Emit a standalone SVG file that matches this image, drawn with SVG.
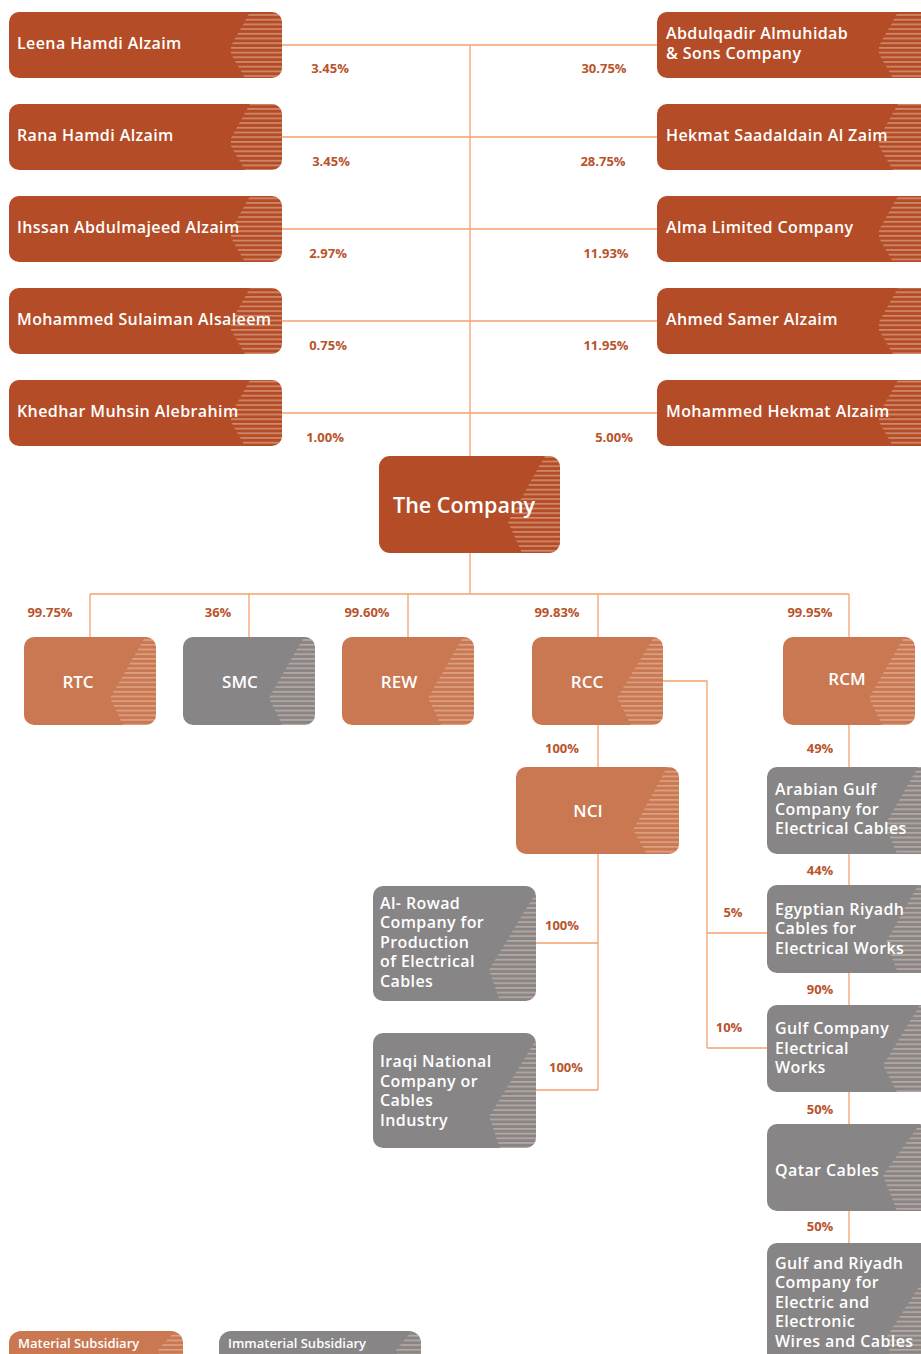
<svg xmlns="http://www.w3.org/2000/svg" xmlns:xlink="http://www.w3.org/1999/xlink" width="921" height="1354" viewBox="0 0 921 1354">
<style>
.dark{fill:#b44d27}
.mat{fill:#c97852}
.gray{fill:#878586}
.str{fill:url(#stripes)}
.nt{font-family:"Open Sans",Lato,sans-serif;font-weight:600;fill:#ffffff;font-size:16px;letter-spacing:0.4px}
.ct{font-family:"Open Sans",Lato,sans-serif;font-weight:600;fill:#ffffff;font-size:17px;text-anchor:middle}
.pc{font-family:"Open Sans",Lato,sans-serif;font-weight:700;fill:#b9532c;font-size:13px;text-anchor:middle}
.lg{font-family:"Open Sans",Lato,sans-serif;font-weight:600;fill:#ffffff;font-size:13px}
.ln{stroke:#f4a06e;stroke-width:1.3;fill:none}
</style>
<defs>
<pattern id="stripes" patternUnits="userSpaceOnUse" width="20" height="4.7">
<rect x="0" y="0" width="20" height="1.7" fill="#f3d2c0" fill-opacity="0.45"/>
</pattern>
</defs>

<g id="connectors" class="ln">
<line x1="282" y1="45" x2="657" y2="45"/>
<line x1="282" y1="137" x2="657" y2="137"/>
<line x1="282" y1="229" x2="657" y2="229"/>
<line x1="282" y1="321" x2="657" y2="321"/>
<line x1="282" y1="413" x2="657" y2="413"/>
<line x1="470" y1="45" x2="470" y2="456"/>
<line x1="470" y1="553" x2="470" y2="594"/>
<line x1="90" y1="594" x2="849" y2="594"/>
<line x1="90" y1="594" x2="90" y2="637"/>
<line x1="249" y1="594" x2="249" y2="637"/>
<line x1="408" y1="594" x2="408" y2="637"/>
<line x1="598" y1="594" x2="598" y2="637"/>
<line x1="849" y1="594" x2="849" y2="637"/>
<line x1="598" y1="725" x2="598" y2="767"/>
<line x1="598" y1="854" x2="598" y2="1090"/>
<line x1="536" y1="943" x2="598" y2="943"/>
<line x1="536" y1="1090" x2="598" y2="1090"/>
<polyline points="663,681 707,681 707,1048"/>
<line x1="707" y1="933" x2="767" y2="933"/>
<line x1="707" y1="1048" x2="767" y2="1048"/>
<line x1="849" y1="725" x2="849" y2="1243"/>
</g>

<g id="labels">
<text class="pc" x="330" y="73">3.45%</text>
<text class="pc" x="331" y="166">3.45%</text>
<text class="pc" x="328" y="258">2.97%</text>
<text class="pc" x="328" y="350">0.75%</text>
<text class="pc" x="325" y="442">1.00%</text>
<text class="pc" x="604" y="73">30.75%</text>
<text class="pc" x="603" y="166">28.75%</text>
<text class="pc" x="606" y="258">11.93%</text>
<text class="pc" x="606" y="350">11.95%</text>
<text class="pc" x="614" y="442">5.00%</text>
<text class="pc" x="50" y="617">99.75%</text>
<text class="pc" x="218" y="617">36%</text>
<text class="pc" x="367" y="617">99.60%</text>
<text class="pc" x="557" y="617">99.83%</text>
<text class="pc" x="810" y="617">99.95%</text>
<text class="pc" x="562" y="753">100%</text>
<text class="pc" x="820" y="753">49%</text>
<text class="pc" x="820" y="875">44%</text>
<text class="pc" x="820" y="994">90%</text>
<text class="pc" x="820" y="1114">50%</text>
<text class="pc" x="820" y="1231">50%</text>
<text class="pc" x="733" y="917">5%</text>
<text class="pc" x="729" y="1032">10%</text>
<text class="pc" x="562" y="930">100%</text>
<text class="pc" x="566" y="1072">100%</text>
</g>

<g id="n-leena">
<rect id="r1" class="dark" x="9" y="12" width="273" height="66" rx="10"/>
<clipPath id="c1"><use xlink:href="#r1"/></clipPath>
<polygon class="str" clip-path="url(#c1)" points="250,12 290,12 290,78 245,78 231,54 231,46"/>
<text class="nt" x="17" y="49">Leena Hamdi Alzaim</text>
</g>
<g id="n-rana">
<rect id="r2" class="dark" x="9" y="104" width="273" height="66" rx="10"/>
<clipPath id="c2"><use xlink:href="#r2"/></clipPath>
<polygon class="str" clip-path="url(#c2)" points="250,104 290,104 290,170 245,170 231,146 231,138"/>
<text class="nt" x="17" y="141">Rana Hamdi Alzaim</text>
</g>
<g id="n-ihssan">
<rect id="r3" class="dark" x="9" y="196" width="273" height="66" rx="10"/>
<clipPath id="c3"><use xlink:href="#r3"/></clipPath>
<polygon class="str" clip-path="url(#c3)" points="250,196 290,196 290,262 245,262 231,238 231,230"/>
<text class="nt" x="17" y="233">Ihssan Abdulmajeed Alzaim</text>
</g>
<g id="n-mohammed-s">
<rect id="r4" class="dark" x="9" y="288" width="273" height="66" rx="10"/>
<clipPath id="c4"><use xlink:href="#r4"/></clipPath>
<polygon class="str" clip-path="url(#c4)" points="250,288 290,288 290,354 245,354 231,330 231,322"/>
<text class="nt" x="17" y="325">Mohammed Sulaiman Alsaleem</text>
</g>
<g id="n-khedhar">
<rect id="r5" class="dark" x="9" y="380" width="273" height="66" rx="10"/>
<clipPath id="c5"><use xlink:href="#r5"/></clipPath>
<polygon class="str" clip-path="url(#c5)" points="250,380 290,380 290,446 245,446 231,422 231,414"/>
<text class="nt" x="17" y="417">Khedhar Muhsin Alebrahim</text>
</g>

<g id="n-abdulqadir">
<rect id="r6" class="dark" x="657" y="12" width="273" height="66" rx="10"/>
<clipPath id="c6"><use xlink:href="#r6"/></clipPath>
<polygon class="str" clip-path="url(#c6)" points="898,12 940,12 940,78 893,78 879,54 879,46"/>
<text class="nt" x="666" y="38.5">Abdulqadir Almuhidab</text>
<text class="nt" x="666" y="58.5">&amp; Sons Company</text>
</g>
<g id="n-hekmat">
<rect id="r7" class="dark" x="657" y="104" width="273" height="66" rx="10"/>
<clipPath id="c7"><use xlink:href="#r7"/></clipPath>
<polygon class="str" clip-path="url(#c7)" points="898,104 940,104 940,170 893,170 879,146 879,138"/>
<text class="nt" x="666" y="141">Hekmat Saadaldain Al Zaim</text>
</g>
<g id="n-alma">
<rect id="r8" class="dark" x="657" y="196" width="273" height="66" rx="10"/>
<clipPath id="c8"><use xlink:href="#r8"/></clipPath>
<polygon class="str" clip-path="url(#c8)" points="898,196 940,196 940,262 893,262 879,238 879,230"/>
<text class="nt" x="666" y="233">Alma Limited Company</text>
</g>
<g id="n-ahmed">
<rect id="r9" class="dark" x="657" y="288" width="273" height="66" rx="10"/>
<clipPath id="c9"><use xlink:href="#r9"/></clipPath>
<polygon class="str" clip-path="url(#c9)" points="898,288 940,288 940,354 893,354 879,330 879,322"/>
<text class="nt" x="666" y="325">Ahmed Samer Alzaim</text>
</g>
<g id="n-mohammed-h">
<rect id="r10" class="dark" x="657" y="380" width="273" height="66" rx="10"/>
<clipPath id="c10"><use xlink:href="#r10"/></clipPath>
<polygon class="str" clip-path="url(#c10)" points="898,380 940,380 940,446 893,446 879,422 879,414"/>
<text class="nt" x="666" y="417">Mohammed Hekmat Alzaim</text>
</g>

<g id="n-company">
<rect id="r11" class="dark" x="379" y="456" width="181" height="97" rx="11"/>
<clipPath id="c11"><use xlink:href="#r11"/></clipPath>
<polygon class="str" clip-path="url(#c11)" points="545,456 570,456 570,553 522,553 508,522"/>
<text class="nt" x="393" y="513" style="font-size:21.5px;letter-spacing:0">The Company</text>
</g>

<g id="n-rtc">
<rect id="r12" class="mat" x="24" y="637" width="132" height="88" rx="10"/>
<clipPath id="c12"><use xlink:href="#r12"/></clipPath>
<polygon class="str" clip-path="url(#c12)" points="145,637 165,637 165,725 123,725 110,698"/>
<text class="ct" x="78" y="688">RTC</text>
</g>
<g id="n-smc">
<rect id="r13" class="gray" x="183" y="637" width="132" height="88" rx="10"/>
<clipPath id="c13"><use xlink:href="#r13"/></clipPath>
<polygon class="str" clip-path="url(#c13)" points="304,637 324,637 324,725 282,725 269,698"/>
<text class="ct" x="240" y="688">SMC</text>
</g>
<g id="n-rew">
<rect id="r14" class="mat" x="342" y="637" width="132" height="88" rx="10"/>
<clipPath id="c14"><use xlink:href="#r14"/></clipPath>
<polygon class="str" clip-path="url(#c14)" points="463,637 483,637 483,725 441,725 428,698"/>
<text class="ct" x="399" y="688">REW</text>
</g>
<g id="n-rcc">
<rect id="r15" class="mat" x="532" y="637" width="131" height="88" rx="10"/>
<clipPath id="c15"><use xlink:href="#r15"/></clipPath>
<polygon class="str" clip-path="url(#c15)" points="654,637 672,637 672,725 631,725 617,698"/>
<text class="ct" x="587" y="688">RCC</text>
</g>
<g id="n-rcm">
<rect id="r16" class="mat" x="783" y="637" width="132" height="88" rx="10"/>
<clipPath id="c16"><use xlink:href="#r16"/></clipPath>
<polygon class="str" clip-path="url(#c16)" points="904,637 924,637 924,725 882,725 869,698"/>
<text class="ct" x="847" y="685">RCM</text>
</g>
<g id="n-nci">
<rect id="r17" class="mat" x="516" y="767" width="163" height="87" rx="10"/>
<clipPath id="c17"><use xlink:href="#r17"/></clipPath>
<polygon class="str" clip-path="url(#c17)" points="667,767 690,767 690,854 647,854 633,830"/>
<text class="ct" x="588" y="817">NCI</text>
</g>

<g id="n-alrowad">
<rect id="r18" class="gray" x="373" y="886" width="163" height="115" rx="10"/>
<clipPath id="c18"><use xlink:href="#r18"/></clipPath>
<polygon class="str" clip-path="url(#c18)" points="540,886 550,886 550,1001 500,1001 489,970"/>
<text class="nt" x="380" y="908.5">Al- Rowad</text>
<text class="nt" x="380" y="928">Company for</text>
<text class="nt" x="380" y="947.5">Production</text>
<text class="nt" x="380" y="967">of Electrical</text>
<text class="nt" x="380" y="986.5">Cables</text>
</g>
<g id="n-iraqi">
<rect id="r19" class="gray" x="373" y="1033" width="163" height="115" rx="10"/>
<clipPath id="c19"><use xlink:href="#r19"/></clipPath>
<polygon class="str" clip-path="url(#c19)" points="540,1033 550,1033 550,1148 500,1148 489,1117"/>
<text class="nt" x="380" y="1067">Iraqi National</text>
<text class="nt" x="380" y="1086.5">Company or</text>
<text class="nt" x="380" y="1106">Cables</text>
<text class="nt" x="380" y="1125.5">Industry</text>
</g>

<g id="n-arabian">
<rect id="r20" class="gray" x="767" y="767" width="165" height="87" rx="10"/>
<clipPath id="c20"><use xlink:href="#r20"/></clipPath>
<polygon class="str" clip-path="url(#c20)" points="918,767 940,767 940,854 897,854 885,825"/>
<text class="nt" x="775" y="795">Arabian Gulf</text>
<text class="nt" x="775" y="814.5">Company for</text>
<text class="nt" x="775" y="834">Electrical Cables</text>
</g>
<g id="n-egyptian">
<rect id="r21" class="gray" x="767" y="885" width="165" height="88" rx="10"/>
<clipPath id="c21"><use xlink:href="#r21"/></clipPath>
<polygon class="str" clip-path="url(#c21)" points="918,885 940,885 940,973 898,973 886,942"/>
<text class="nt" x="775" y="914.5">Egyptian Riyadh</text>
<text class="nt" x="775" y="934">Cables for</text>
<text class="nt" x="775" y="953.5">Electrical Works</text>
</g>
<g id="n-gulfco">
<rect id="r22" class="gray" x="767" y="1005" width="165" height="87" rx="10"/>
<clipPath id="c22"><use xlink:href="#r22"/></clipPath>
<polygon class="str" clip-path="url(#c22)" points="920,1005 940,1005 940,1092 897,1092 883,1065"/>
<text class="nt" x="775" y="1034">Gulf Company</text>
<text class="nt" x="775" y="1053.5">Electrical</text>
<text class="nt" x="775" y="1073">Works</text>
</g>
<g id="n-qatar">
<rect id="r23" class="gray" x="767" y="1124" width="165" height="87" rx="10"/>
<clipPath id="c23"><use xlink:href="#r23"/></clipPath>
<polygon class="str" clip-path="url(#c23)" points="920,1124 940,1124 940,1211 897,1211 883,1175"/>
<text class="nt" x="775" y="1176">Qatar Cables</text>
</g>
<g id="n-gulfriyadh">
<rect id="r24" class="gray" x="767" y="1243" width="165" height="130" rx="10"/>
<clipPath id="c24"><use xlink:href="#r24"/></clipPath>
<polygon class="str" clip-path="url(#c24)" points="935,1262 940,1262 940,1373 895,1373 886,1338"/>
<text class="nt" x="775" y="1268.5">Gulf and Riyadh</text>
<text class="nt" x="775" y="1288">Company for</text>
<text class="nt" x="775" y="1307.5">Electric and</text>
<text class="nt" x="775" y="1327">Electronic</text>
<text class="nt" x="775" y="1346.5">Wires and Cables</text>
</g>

<g id="legend">
<g id="legend-material">
<rect id="r25" class="mat" x="9" y="1331" width="174" height="46" rx="12"/>
<clipPath id="c25"><use xlink:href="#r25"/></clipPath>
<polygon class="str" clip-path="url(#c25)" points="175,1331 190,1331 190,1360 160,1360 158,1350"/>
<text class="lg" x="18" y="1348">Material Subsidiary</text>
</g>
<g id="legend-immaterial">
<rect id="r26" class="gray" x="219" y="1331" width="202" height="46" rx="12"/>
<clipPath id="c26"><use xlink:href="#r26"/></clipPath>
<polygon class="str" clip-path="url(#c26)" points="412,1331 430,1331 430,1360 398,1360 396,1350"/>
<text class="lg" x="228" y="1348">Immaterial Subsidiary</text>
</g>
</g>
</svg>
